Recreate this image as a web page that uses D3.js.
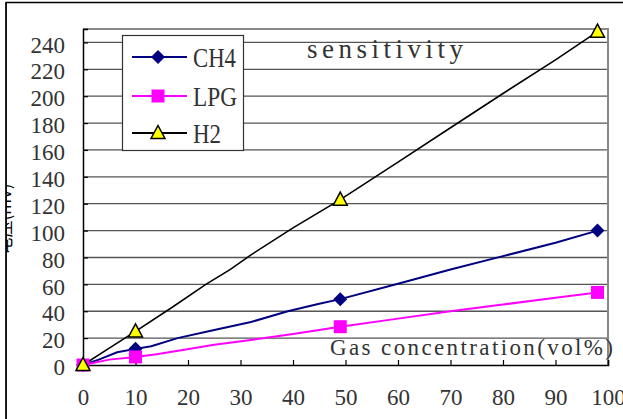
<!DOCTYPE html>
<html>
<head>
<meta charset="utf-8">
<script src="https://cdn.jsdelivr.net/npm/d3@7/dist/d3.min.js"></script>
<style>
html,body{margin:0;padding:0;background:#fff;overflow:hidden;}
svg{display:block;}
</style>
</head>
<body>
<script>
// ---- data ----
const xTicks = [0,10,20,30,40,50,60,70,80,90,100];
const yTicks = [0,20,40,60,80,100,120,140,160,180,200,220,240];
const seriesNames = ["CH4","LPG","H2"];
const markerX = [0, 10, 49, 98];
const ch4Markers = [0, 12, 49, 100];
const lpgMarkers = [0, 6, 28.5, 54];
const h2Markers = [0, 25, 123, 248];
const ch4LineX = [0, 3, 6.5, 10, 13, 18, 25, 32, 39, 45, 49, 60, 70, 80, 90, 98];
const ch4LineY = [0, 4, 9.5, 12, 14, 20, 26, 32, 40, 45.5, 49, 60.5, 71, 81, 91, 100];
const lpgLineX = [0, 5, 10, 14, 19, 25, 32, 40, 49, 60, 70, 80, 90, 98];
const lpgLineY = [0, 4, 6, 8, 11.2, 15, 18.6, 23, 28.5, 34.5, 40, 45, 50, 54];
const h2LineX = [0, 5, 10, 17, 23.4, 28, 32, 40, 49, 60, 70, 80, 90, 98];
const h2LineY = [0, 12.5, 25, 43, 60, 71, 82, 102, 123, 151, 176.5, 202, 227, 248];
const xTitle = "Gas concentration(vol%)";
const chartTitle = "sensitivity";
const yTitle = "电压(mV)";

const W = 623, H = 419;
const svg = d3.select("body").append("svg").attr("width", W).attr("height", H);

// outer frame (extends beyond viewport on right/bottom)
svg.append("rect").attr("x",6).attr("y",2.5).attr("width",700).attr("height",500)
  .attr("fill","none").attr("stroke","#000").attr("stroke-width",1.5);

// y title (mostly clipped, as in the original)
svg.append("text").attr("transform","translate(11,219) rotate(-90)")
  .attr("text-anchor","middle").attr("font-family","Noto Sans CJK SC")
  .attr("font-size",17).attr("fill","#000").text(yTitle);
svg.append("rect").attr("x",0).attr("y",0).attr("width",5.5).attr("height",H).attr("fill","#fff");
svg.append("line").attr("x1",6).attr("x2",6).attr("y1",2).attr("y2",H).attr("stroke","#000").attr("stroke-width",1.5);

const x = d3.scaleLinear().domain([0,100]).range([83,608]);
const y = d3.scaleLinear().domain([0,250]).range([365,29]);

// gridlines
svg.append("g").selectAll("line").data(yTicks.filter(d=>d>0)).join("line")
  .attr("x1",x(0)).attr("x2",x(100)).attr("y1",d=>y(d)).attr("y2",d=>y(d))
  .attr("stroke","#555").attr("stroke-width",1.3);

// plot border top/right (gray)
svg.append("path").attr("d",`M${x(0)},${y(250)}H${x(100)}V${y(0)}`)
  .attr("fill","none").attr("stroke","#888").attr("stroke-width",2);

// axes
const fontNum = "'Liberation Serif', serif";
const yAxis = d3.axisLeft(y).tickValues(yTicks).tickSize(-5).tickPadding(18).tickFormat(d3.format("d"));
const gy = svg.append("g").attr("transform",`translate(${x(0)},0)`).call(yAxis);
gy.select(".domain").attr("stroke","#000").attr("stroke-width",1.5);
gy.selectAll(".tick line").attr("stroke","#000").attr("stroke-width",1.2);
gy.selectAll(".tick text").attr("font-family",fontNum).attr("font-size",23).attr("fill","#333")
  .attr("dy","0.42em");

const xAxis = d3.axisBottom(x).tickValues(xTicks).tickSize(-5).tickPadding(24).tickFormat(d3.format("d"));
const gx = svg.append("g").attr("transform",`translate(0,${y(0)})`).call(xAxis);
gx.select(".domain").attr("stroke","#000").attr("stroke-width",1.5);
gx.selectAll(".tick line").attr("stroke","#000").attr("stroke-width",1.2);
gx.selectAll(".tick text").attr("font-family",fontNum).attr("font-size",23).attr("fill","#333")
  .attr("dy","0.71em");

// titles
svg.append("text").attr("x",307).attr("y",58).attr("font-family",fontNum).attr("font-size",27)
  .attr("textLength",156).attr("lengthAdjust","spacing").attr("fill","#333").text(chartTitle);
svg.append("text").attr("x",330).attr("y",355).attr("font-family",fontNum).attr("font-size",23)
  .attr("textLength",283).attr("lengthAdjust","spacing").attr("fill","#333").text(xTitle);

// series
const line = d3.line().x(d=>x(d[0])).y(d=>y(d[1]));
const series = [
  {name:"CH4", lx:ch4LineX, ly:ch4LineY, my:ch4Markers, color:"#000080", w:2, shape:"diamond"},
  {name:"LPG", lx:lpgLineX, ly:lpgLineY, my:lpgMarkers, color:"#FF00FF", w:2, shape:"square"},
  {name:"H2",  lx:h2LineX,  ly:h2LineY,  my:h2Markers,  color:"#000000", w:1.6, shape:"triangle"}
];
function marker(g, s, cx, cy){
  if(s.shape==="diamond"){
    g.append("path").attr("d",`M${cx},${cy-7}L${cx+7},${cy}L${cx},${cy+7}L${cx-7},${cy}Z`).attr("fill","#000080");
  } else if(s.shape==="square"){
    g.append("rect").attr("x",cx-6.5).attr("y",cy-6.5).attr("width",13).attr("height",13).attr("fill","#FF00FF");
  } else {
    g.append("path").attr("d",`M${cx},${cy-7.5}L${cx+7},${cy+5.5}L${cx-7},${cy+5.5}Z`)
      .attr("fill","#FFFF00").attr("stroke","#000").attr("stroke-width",1.5).attr("stroke-linejoin","miter");
  }
}
series.forEach(s=>{
  const pts = s.lx.map((v,i)=>[v, s.ly[i]]);
  svg.append("path").datum(pts).attr("d",line).attr("fill","none")
    .attr("stroke",s.color).attr("stroke-width",s.w);
});
series.forEach(s=>{
  const g = svg.append("g");
  markerX.forEach((mx,i)=>marker(g, s, x(mx), y(s.my[i])));
});

// legend
const lg = svg.append("g");
lg.append("rect").attr("x",122.5).attr("y",35.5).attr("width",121).attr("height",115)
  .attr("fill","#fff").attr("stroke","#333").attr("stroke-width",1.2);
const legY = [57, 96, 133];
const legBase = [67, 106, 143];
const legW = [43, 44, 28];
series.forEach((s,i)=>{
  lg.append("line").attr("x1",132).attr("x2",187).attr("y1",legY[i]).attr("y2",legY[i])
    .attr("stroke",s.color).attr("stroke-width",2);
  marker(lg, s, 158, legY[i]);
  lg.append("text").attr("x",193).attr("y",legBase[i]).attr("font-family",fontNum)
    .attr("font-size",28).attr("textLength",legW[i]).attr("lengthAdjust","spacingAndGlyphs")
    .attr("fill","#333").text(seriesNames[i]);
});
</script>
</body>
</html>
